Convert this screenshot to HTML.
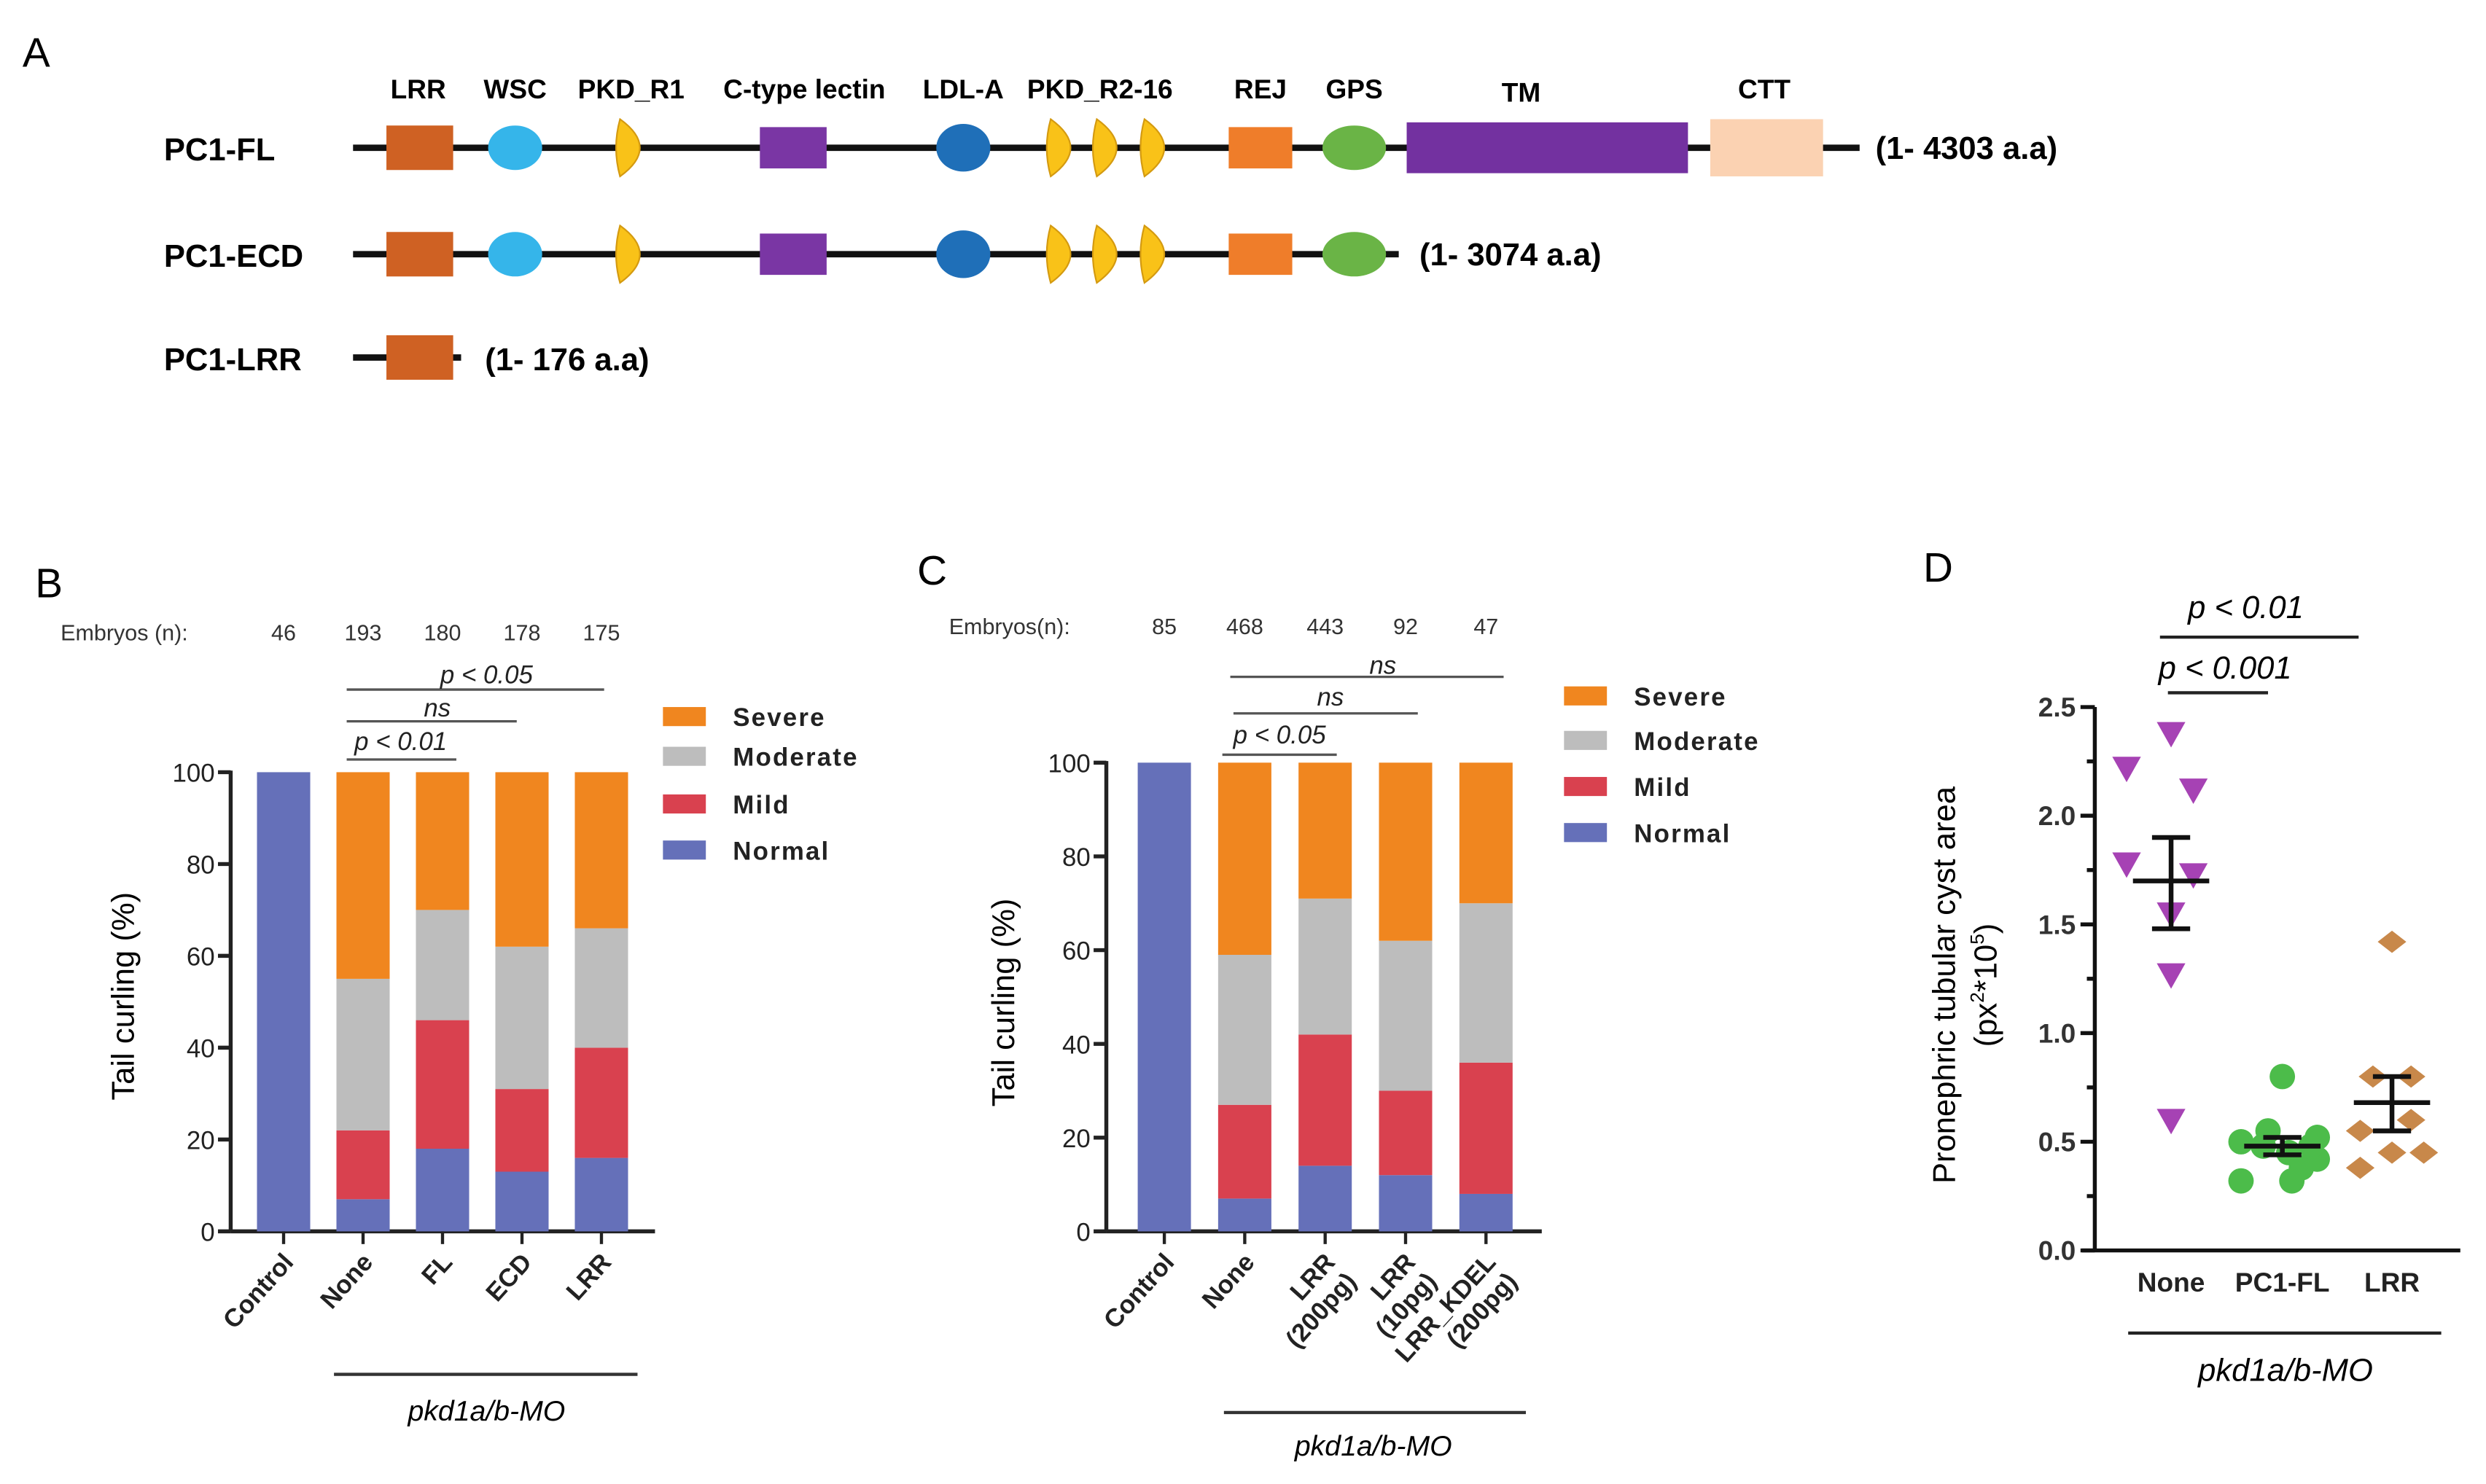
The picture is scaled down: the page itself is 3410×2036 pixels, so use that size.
<!DOCTYPE html>
<html><head><meta charset="utf-8"><style>
html,body{margin:0;padding:0;background:#fff}
svg{display:block;font-family:"Liberation Sans",sans-serif}
</style></head><body>
<svg id="fig" width="3410" height="2036" viewBox="0 0 1564 934" xmlns="http://www.w3.org/2000/svg">
<g id="panelA">
<text x="14" y="42" font-size="26">A</text>
<g font-size="17" font-weight="bold" text-anchor="middle">
<text x="263" y="62">LRR</text><text x="324" y="62">WSC</text><text x="397" y="62">PKD_R1</text>
<text x="506" y="62">C-type lectin</text><text x="606" y="62">LDL-A</text><text x="692" y="62">PKD_R2-16</text>
<text x="793" y="62">REJ</text><text x="852" y="62">GPS</text><text x="957" y="64">TM</text><text x="1110" y="62">CTT</text>
</g>
<g font-size="20" font-weight="bold">
<text x="103" y="101">PC1-FL</text><text x="103" y="168">PC1-ECD</text><text x="103" y="233">PC1-LRR</text>
</g>
<g id="constructs"></g>
<g font-size="20" font-weight="bold">
<text x="1180" y="100">(1- 4303 a.a)</text><text x="893" y="167">(1- 3074 a.a)</text><text x="305" y="233">(1- 176 a.a)</text>
</g>
</g>
<g id="panelB"></g>
<g id="panelC"></g>
<g id="panelD"></g>
</svg>
<script>
// ===== Panel B data =====
const bCats = ["Control","None","FL","ECD","LRR"];
const bNormal = [100,7,18,13,16];
const bMild = [0,15,28,18,24];
const bModerate = [0,33,24,31,26];
const bSevere = [0,45,30,38,34];
const bEmbryos = ["46","193","180","178","175"];
// ===== Panel C data =====
const cCats = [["Control"],["None"],["LRR","(200pg)"],["LRR","(10pg)"],["LRR_KDEL","(200pg)"]];
const cNormal = [100,7,14,12,8];
const cMild = [0,20,28,18,28];
const cModerate = [0,32,29,32,34];
const cSevere = [0,41,29,38,30];
const cEmbryos = ["85","468","443","92","47"];
const yTicks = [0,20,40,60,80,100];
// ===== Panel D data =====
const dCats = ["None","PC1-FL","LRR"];
const dNone = [2.38,2.22,2.12,1.78,1.73,1.55,1.27,0.6];
const dFL = [0.8,0.55,0.52,0.5,0.48,0.45,0.42,0.38,0.32,0.32,0.48];
const dLRR = [1.42,0.8,0.8,0.55,0.45,0.45,0.38,0.6];
const dMean = [1.7,0.48,0.68];
const dSemLo = [1.48,0.44,0.55];
const dSemHi = [1.9,0.52,0.8];
const dTicks = [0,0.5,1.0,1.5,2.0,2.5];
const dTickLabels = ["0.0","0.5","1.0","1.5","2.0","2.5"];

const NS="http://www.w3.org/2000/svg";
function el(tag,attrs,parent,txt){const e=document.createElementNS(NS,tag);for(const k in attrs)e.setAttribute(k,attrs[k]);if(txt!==undefined)e.textContent=txt;parent.appendChild(e);return e;}
const colors={sev:"#f0861f",mod:"#bdbdbd",mild:"#d9414f",norm:"#6570b9"};

// ===== Panel A constructs =====
(function(){
 const g=document.getElementById('constructs');
 function half(p,cx,cy){return el('path',{d:`M${cx-7},${cy-18} Q${cx+18},${cy} ${cx-7},${cy+18} Q${cx-12},${cy} ${cx-7},${cy-18}Z`,fill:'#f9c218',stroke:'#d49a10','stroke-width':1},p);}
 function construct(y,end,full,name,lrrOnly){
  const c=el('g',{},g);
  
  
  el('line',{x1:222,y1:y,x2:end,y2:y,stroke:'#111','stroke-width':4},c);
  el('rect',{x:243,y:y-14,width:42,height:28,fill:'#cf6123'},c);
  if(lrrOnly)return;
  el('ellipse',{cx:324,cy:y,rx:17,ry:14,fill:'#35b5ea'},c);
  half(c,397,y);
  el('rect',{x:478,y:y-13,width:42,height:26,fill:'#7a36a4'},c);
  el('ellipse',{cx:606,cy:y,rx:17,ry:15,fill:'#1f6fb8'},c);
  half(c,668,y);half(c,697,y);half(c,727,y);
  el('rect',{x:773,y:y-13,width:40,height:26,fill:'#ef7d2a'},c);
  el('ellipse',{cx:852,cy:y,rx:20,ry:14,fill:'#6ab446'},c);
  if(full){
   el('rect',{x:885,y:y-16,width:177,height:32,fill:'#7331a0'},c);
   el('rect',{x:1076,y:y-18,width:71,height:36,fill:'#fbd2b2'},c);
  }
 }
 construct(93,1170,true,'pc1-fl-construct');
 construct(160,880,false,'pc1-ecd-construct');
 construct(225,290,false,'pc1-lrr-construct',true);
})();

// ===== Stacked bar panel =====
function stacked(cfg){
 const g=document.getElementById(cfg.id);
 el('text',{x:cfg.lab[0],y:cfg.lab[1],'font-size':26},g,cfg.letter);
 const y=v=>cfg.y0+(cfg.y100-cfg.y0)*v/100;
 const ax=el('g',{stroke:'#222','stroke-width':2.5},g);
 
 
 el('line',{x1:cfg.ax,y1:y(100)-1,x2:cfg.ax,y2:y(0),},ax);
 el('line',{x1:cfg.ax,y1:y(0),x2:cfg.xEnd,y2:y(0)},ax);
 yTicks.forEach(t=>{
  el('line',{x1:cfg.ax-8,y1:y(t),x2:cfg.ax,y2:y(t)},ax);
  const tl=el('text',{x:cfg.ax-10,y:y(t)+6,'font-size':16,'text-anchor':'end',fill:'#222'},g,String(t));
  
  
 });
 const yt=el('text',{transform:`translate(${cfg.yTitleX},${cfg.yTitleY}) rotate(-90)`,'font-size':20,'text-anchor':'middle'},g,'Tail curling (%)');
 
 
 const series=[[cfg.norm,colors.norm,'normal'],[cfg.mild,colors.mild,'mild'],[cfg.mod,colors.mod,'moderate'],[cfg.sev,colors.sev,'severe']];
 cfg.cats.forEach((c,i)=>{
  const cx=cfg.x0+i*cfg.step;let acc=0;
  series.forEach(s=>{
   const v=s[0][i];if(v<=0)return;
   const r=el('rect',{x:cx-cfg.bw/2,y:y(acc+v),width:cfg.bw,height:y(acc)-y(acc+v),fill:s[1]},g);
   
   
   acc+=v;
  });
  el('line',{x1:cx,y1:y(0),x2:cx,y2:y(0)+8,stroke:'#222','stroke-width':2},g);
  const lines=Array.isArray(c)?c:[c];
  const t=el('text',{transform:`translate(${cx+7},${y(0)+20}) rotate(-48)`,'font-size':16,'font-weight':'bold','text-anchor':'end',fill:'#222'},g);
  
  
  lines.forEach((l,k)=>el('tspan',{x:0,dy:k?18:0},t,l));
  const n=el('text',{x:cx,y:cfg.embY,'font-size':14,'text-anchor':'middle',fill:'#333'},g,cfg.emb[i]);
  
  
 });
 const et=el('text',{x:cfg.embX,y:cfg.embY,'font-size':14,fill:'#333'},g,cfg.embLabel);
 
 
 cfg.sig.forEach(s=>{
  el('line',{x1:s[0],y1:s[2],x2:s[1],y2:s[2],stroke:'#555','stroke-width':1.5},g);
  const st=el('text',{x:s[3],y:s[4],'font-size':16,'font-style':'italic','text-anchor':'middle',fill:'#222'},g,s[5]);
  
  
 });
 const leg=el('g',{},g);
 
 
 [['Severe',colors.sev],['Moderate',colors.mod],['Mild',colors.mild],['Normal',colors.norm]].forEach((L,k)=>{
  const yy=cfg.legY[k];
  el('rect',{x:cfg.legX,y:yy-6,width:27,height:12,fill:L[1]},leg);
  const lt=el('text',{x:cfg.legX+44,y:yy+6,'font-size':16,'font-weight':'bold','letter-spacing':1,fill:'#222'},leg,L[0]);
  
  
 });
 el('line',{x1:cfg.mo[0],y1:cfg.mo[2],x2:cfg.mo[1],y2:cfg.mo[2],stroke:'#333','stroke-width':2},g);
 const mo=el('text',{x:cfg.mo[3],y:cfg.mo[4],'font-size':18,'font-style':'italic','text-anchor':'middle'},g,'pkd1a/b-MO');
 
 
}
stacked({id:'panelB',letter:'B',lab:[22,376],ax:145,xEnd:412,y0:775,y100:486,x0:178.3,step:50,bw:33.5,
 yTitleX:84,yTitleY:627,
 cats:bCats,norm:bNormal,mild:bMild,mod:bModerate,sev:bSevere,emb:bEmbryos,embX:38,embY:403,embLabel:'Embryos (n):',
 sig:[[218,380,434,306,430,'p < 0.05'],[218,325,454,275,451,'ns'],[218,287,478,252,472,'p < 0.01']],
 legX:417,legY:[451,476,506,535],mo:[210,401,865,306,894]});
stacked({id:'panelC',letter:'C',lab:[577,368],ax:696,xEnd:970,y0:775,y100:480,x0:732.5,step:50.6,bw:33.5,
 yTitleX:638,yTitleY:631,
 cats:cCats,norm:cNormal,mild:cMild,mod:cModerate,sev:cSevere,emb:cEmbryos,embX:597,embY:399,embLabel:'Embryos(n):',
 sig:[[774,946,426,870,424,'ns'],[776,892,449,837,444,'ns'],[769,841,475,805,468,'p < 0.05']],
 legX:984,legY:[438,466,495,524],mo:[770,960,889,864,916]});

// ===== Panel D scatter =====
(function(){
 const g=document.getElementById('panelD');
 el('text',{x:1210,y:366,'font-size':26},g,'D');
 const ax=1318,y0=787,y25=445,xEnd=1548;
 const y=v=>y0+(y25-y0)*v/2.5;
 const xs=[1366,1436,1505];
 const axes=el('g',{stroke:'#111','stroke-width':2.5},g);
 
 
 el('line',{x1:ax,y1:y(2.5),x2:ax,y2:y0},axes);
 el('line',{x1:ax-8,y1:y0,x2:xEnd,y2:y0},axes);
 for(let v=0.25;v<2.5;v+=0.5) el('line',{x1:ax-5,y1:y(v),x2:ax,y2:y(v)},axes);
 dTicks.forEach((t,i)=>{
  el('line',{x1:ax-9,y1:y(t),x2:ax,y2:y(t)},axes);
  const tl=el('text',{x:ax-12,y:y(t)+6,'font-size':17,'font-weight':'bold','text-anchor':'end',fill:'#333'},g,dTickLabels[i]);
  
  
 });
 const yt=el('text',{transform:`translate(1230,620) rotate(-90)`,'font-size':20,'text-anchor':'middle'},g,'Pronephric tubular cyst area');
 
 
 const yt2=el('text',{transform:`translate(1256,620) rotate(-90)`,'font-size':20,'text-anchor':'middle'},g);
 
 
 el('tspan',{},yt2,'(px');el('tspan',{'font-size':12,dy:-8},yt2,'2');el('tspan',{dy:8},yt2,'*10');el('tspan',{'font-size':12,dy:-8},yt2,'5');el('tspan',{dy:8},yt2,')');
 const jFL=[0,-9,22,-26,-12,4,22,12,-26,6,18];
 const jL=[0,-12,12,-20,0,20,-20,12];
 function pts(arr,i,js,kind,color){
  arr.forEach((v,k)=>{
   const cx=xs[i]+js[k],cy=y(v);let m;
   if(kind==='tri') m=el('path',{d:`M${cx-9},${cy-7} L${cx+9},${cy-7} L${cx},${cy+9}Z`,fill:color},g);
   else if(kind==='dia') m=el('path',{d:`M${cx-9},${cy} L${cx},${cy-7} L${cx+9},${cy} L${cx},${cy+7}Z`,fill:color},g);
   else m=el('circle',{cx:cx,cy:cy,r:8,fill:color},g);
   
   
  });
 }
 pts(dNone,0,[0,-28,14,-28,14,0,0,0],'tri','#a642b4');
 pts(dFL,1,jFL,'circ','#4cbc4a');
 pts(dLRR,2,jL,'dia','#c8884a');
 dMean.forEach((m,i)=>{
  const e=el('g',{stroke:'#111','stroke-width':3},g);
  
  
  el('line',{x1:xs[i]-24,y1:y(m),x2:xs[i]+24,y2:y(m)},e);
  el('line',{x1:xs[i],y1:y(dSemLo[i]),x2:xs[i],y2:y(dSemHi[i])},e);
  el('line',{x1:xs[i]-12,y1:y(dSemLo[i]),x2:xs[i]+12,y2:y(dSemLo[i])},e);
  el('line',{x1:xs[i]-12,y1:y(dSemHi[i]),x2:xs[i]+12,y2:y(dSemHi[i])},e);
  const tl=el('text',{x:xs[i],y:813,'font-size':17,'font-weight':'bold','text-anchor':'middle',fill:'#222'},g,dCats[i]);
  
  
 });
 [[1359,1484,401,1413,389,'p < 0.01'],[1364,1427,436,1400,427,'p < 0.001']].forEach(s=>{
  el('line',{x1:s[0],y1:s[2],x2:s[1],y2:s[2],stroke:'#222','stroke-width':2},g);
  const st=el('text',{x:s[3],y:s[4],'font-size':20,'font-style':'italic','text-anchor':'middle'},g,s[5]);
  
  
 });
 el('line',{x1:1339,y1:839,x2:1536,y2:839,stroke:'#222','stroke-width':2},g);
 const mo=el('text',{x:1438,y:869,'font-size':20,'font-style':'italic','text-anchor':'middle'},g,'pkd1a/b-MO');
 
 
})();
</script>
</body></html>
